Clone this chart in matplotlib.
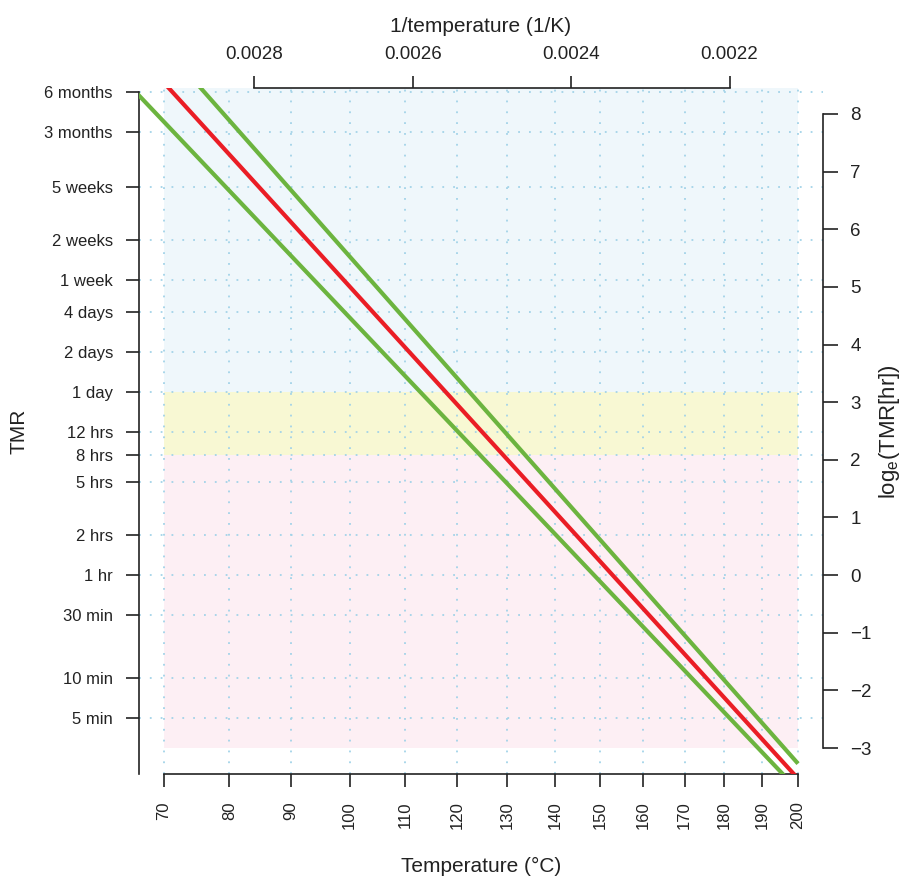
import numpy as np
import matplotlib
matplotlib.use('Agg')
import matplotlib.pyplot as plt

plt.rcParams['font.family'] = ['Liberation Sans', 'DejaVu Sans']
plt.rcParams['mathtext.fontset'] = 'custom'
plt.rcParams['mathtext.rm'] = 'Liberation Sans'

# ---- data ----
temp_ticks_c = [70, 80, 90, 100, 110, 120, 130, 140, 150, 160, 170, 180, 190, 200]
inv_temp_ticks = [0.0028, 0.0026, 0.0024, 0.0022]

tmr_labels = ['6 months', '3 months', '5 weeks', '2 weeks', '1 week', '4 days',
              '2 days', '1 day', '12 hrs', '8 hrs', '5 hrs', '2 hrs', '1 hr',
              '30 min', '10 min', '5 min']
tmr_hours = [4380, 2190, 840, 336, 168, 96, 48, 24, 12, 8, 5, 2, 1,
             0.5, 10 / 60, 5 / 60]
ln_ticks = [-3, -2, -1, 0, 1, 2, 3, 4, 5, 6, 7, 8]

# Arrhenius lines: ln(TMR[hr]) at the two end temperatures
line_temp_c = [60, 200]
fit_ln = [9.86, -3.53]
upper_ln = [10.53, -3.27]
lower_ln = [9.13, -3.73]

# hazard zones (ln TMR): pink below 8 hrs, yellow 8-24 hrs, blue above 1 day
zone_temp_c = [70, 200]
zone_low = [-3, np.log(8), np.log(24)]
zone_high = [np.log(8), np.log(24), 8.45]
zone_colors = ['#fdeff4', '#f8f8d3', '#eff7fb']


def inv_k(t_c):
    return 1.0 / (np.asarray(t_c, dtype=float) + 273.15)


fig = plt.figure(figsize=(9.02, 8.76), dpi=100)
ax = fig.add_axes([138.6 / 902, 1 - 774 / 876, (823.4 - 138.6) / 902, (774 - 88) / 876])

span = inv_k(70) - inv_k(200)
xlim = (inv_k(70) + 0.04 * span, inv_k(200) - 0.04 * span)
ylim = (-3.45, 8.45)
ax.set_xlim(xlim)
ax.set_ylim(ylim)

# background zones
for lo, hi, c in zip(zone_low, zone_high, zone_colors):
    ax.fill_between(inv_k(zone_temp_c), lo, hi, color=c, lw=0, zorder=0)

# dotted grid
grid_kw = dict(color='#a3d3e8', lw=1.3, linestyle=(0, (1, 5)), zorder=1)
for t in temp_ticks_c:
    ax.axvline(inv_k(t), **grid_kw)
for h in tmr_hours:
    ax.axhline(np.log(h), **grid_kw)

# lines
ax.plot(inv_k(line_temp_c), upper_ln, color='#6cb43f', lw=3, solid_capstyle='butt', zorder=3)
ax.plot(inv_k(line_temp_c), lower_ln, color='#6cb43f', lw=3, solid_capstyle='butt', zorder=3)
ax.plot(inv_k(line_temp_c), fit_ln, color='#ea1d25', lw=3, solid_capstyle='butt', zorder=4)

axis_col = '#222222'
tick_kw = dict(direction='out', width=1.2, colors=axis_col)

# bottom / left axes
ax.set_xticks(inv_k(temp_ticks_c))
ax.set_xticklabels([str(t) for t in temp_ticks_c], rotation=90)
ax.set_yticks(np.log(tmr_hours))
ax.set_yticklabels(tmr_labels)
ax.tick_params(axis='x', pad=10, length=9.5, labelsize=12, **tick_kw)
ax.tick_params(axis='y', pad=9, length=9.5, labelsize=12, **tick_kw)
for s in ['top', 'right']:
    ax.spines[s].set_visible(False)
for s in ['left', 'bottom']:
    ax.spines[s].set_linewidth(1.2)
    ax.spines[s].set_color(axis_col)
ax.spines['bottom'].set_bounds(inv_k(200), inv_k(70))
ax.spines['left'].set_bounds(ylim[0], np.log(4380))

# top axis: 1/temperature
ax_top = ax.twiny()
ax_top.set_xlim(xlim)
ax_top.set_xticks(inv_temp_ticks)
ax_top.set_xticklabels([f'{v:.4f}' for v in inv_temp_ticks])
ax_top.tick_params(axis='x', pad=9.5, length=8.6, labelsize=13.5, **tick_kw)
for s in ['left', 'right', 'bottom']:
    ax_top.spines[s].set_visible(False)
ax_top.spines['top'].set_linewidth(1.2)
ax_top.spines['top'].set_color(axis_col)
ax_top.spines['top'].set_bounds(min(inv_temp_ticks), max(inv_temp_ticks))

# right axis: ln TMR
ax_r = ax.twinx()
ax_r.set_ylim(ylim)
ax_r.set_yticks(ln_ticks)
ax_r.set_yticklabels([str(v).replace('-', '\u2212') for v in ln_ticks])
ax_r.tick_params(axis='y', pad=8.5, length=10.8, labelsize=13.5, **tick_kw)
for s in ['left', 'top', 'bottom']:
    ax_r.spines[s].set_visible(False)
ax_r.spines['right'].set_linewidth(1.2)
ax_r.spines['right'].set_color(axis_col)
ax_r.spines['right'].set_bounds(min(ln_ticks), max(ln_ticks))

# axis titles
fig.text(481 / 902, 1 - 866 / 876, 'Temperature (\u00b0C)', ha='center', va='center',
         fontsize=15, color=axis_col)
fig.text(481 / 902, 1 - 27 / 876, '1/temperature (1/K)', ha='center', va='center',
         fontsize=15, color=axis_col)
fig.text(19 / 902, 1 - 431 / 876, 'TMR', ha='center', va='center', rotation=90,
         fontsize=15, color=axis_col)
fig.text(890 / 902, 1 - 432 / 876, r'$\mathregular{log_e(TMR[hr])}$', ha='center',
         va='center', rotation=90, fontsize=16, color=axis_col)

fig.savefig('out.png', dpi=100)
